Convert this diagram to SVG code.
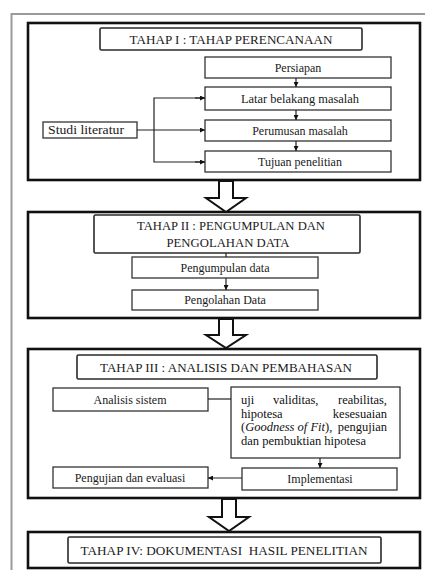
<svg xmlns="http://www.w3.org/2000/svg" width="425" height="570" viewBox="0 0 425 570">
  <style>
    .frame { fill: none; stroke: #9a9a9a; stroke-width: 2; }
    .stage { fill: #ffffff; stroke: #111; stroke-width: 2.6; }
    .title { fill: #ffffff; stroke: #2a2a2a; stroke-width: 1.6; }
    .box { fill: #ffffff; stroke: #333; stroke-width: 1.3; }
    .t { font-family: 'Liberation Serif', 'Times New Roman', serif; font-size: 12px; fill: #1a1a1a; text-anchor: middle; }
    .tt { font-family: 'Liberation Serif', 'Times New Roman', serif; font-size: 13px; fill: #1a1a1a; text-anchor: middle; }
    .tj { font-family: 'Liberation Serif', 'Times New Roman', serif; font-size: 12.5px; fill: #111; }
    .ln { fill: none; stroke: #222; stroke-width: 1.2; }
    .big { fill: #ffffff; stroke: #111; stroke-width: 2; stroke-linejoin: miter; }
  </style>
  <defs>
    <marker id="ah" viewBox="0 0 10 10" refX="10" refY="5" markerWidth="5" markerHeight="5" orient="auto" markerUnits="userSpaceOnUse">
      <path d="M0,0 L10,5 L0,10 z" fill="#111"/>
    </marker>
  </defs>

  <rect class="frame" x="11.5" y="14" width="430" height="570"/>

  <!-- Stage I -->
  <g id="stage1">
    <rect class="stage" x="28" y="23" width="392" height="157"/>
    <g id="title1">
      <rect class="title" x="100" y="28" width="262" height="22" rx="1.5"/>
      <text class="tt" x="231" y="43.5" textLength="203" lengthAdjust="spacingAndGlyphs">TAHAP I : TAHAP PERENCANAAN</text>
    </g>
    <g id="persiapan">
      <rect class="box" x="205" y="57" width="186" height="21"/>
      <text class="t" x="298" y="71.5">Persiapan</text>
    </g>
    <g id="latar">
      <rect class="box" x="205" y="87" width="186" height="23"/>
      <text class="t" x="300" y="102.5" textLength="118" lengthAdjust="spacingAndGlyphs">Latar belakang masalah</text>
    </g>
    <g id="perumusan">
      <rect class="box" x="205" y="120" width="186" height="21"/>
      <text class="t" x="300" y="134.5">Perumusan masalah</text>
    </g>
    <g id="tujuan">
      <rect class="box" x="205" y="151" width="186" height="21"/>
      <text class="t" x="300" y="165.5">Tujuan penelitian</text>
    </g>
    <g id="studi">
      <rect class="box" x="43" y="122" width="94" height="16"/>
      <text class="t" x="86" y="133.8" textLength="76" lengthAdjust="spacingAndGlyphs">Studi literatur</text>
    </g>
  </g>

  <!-- Stage II -->
  <g id="stage2">
    <rect class="stage" x="28" y="212" width="392" height="106"/>
    <g id="title2">
      <rect class="title" x="94" y="215" width="266" height="38" rx="1.5"/>
      <text class="tt" x="231" y="229.5" textLength="188" lengthAdjust="spacingAndGlyphs">TAHAP II : PENGUMPULAN DAN</text>
      <text class="tt" x="228" y="246.5" textLength="123" lengthAdjust="spacingAndGlyphs">PENGOLAHAN DATA</text>
    </g>
    <g id="pengumpulan">
      <rect class="box" x="132" y="257" width="186" height="21"/>
      <text class="t" x="225" y="271.5">Pengumpulan data</text>
    </g>
    <g id="pengolahan">
      <rect class="box" x="132" y="290" width="186" height="20"/>
      <text class="t" x="225" y="304">Pengolahan Data</text>
    </g>
  </g>

  <!-- Stage III -->
  <g id="stage3">
    <rect class="stage" x="28" y="349" width="392" height="149"/>
    <g id="title3">
      <rect class="title" x="77" y="355" width="300" height="24" rx="1.5"/>
      <text class="tt" x="226" y="371.5" textLength="252" lengthAdjust="spacingAndGlyphs">TAHAP III : ANALISIS DAN PEMBAHASAN</text>
    </g>
    <g id="analisis">
      <rect class="box" x="53" y="388" width="155" height="23"/>
      <text class="t" x="130" y="403.5">Analisis sistem</text>
    </g>
    <g id="uji">
      <rect class="box" x="231" y="387" width="169" height="71"/>
      <text class="tj" y="404"><tspan x="241">uji</tspan><tspan x="273">validitas,</tspan><tspan x="387" text-anchor="end">reabilitas,</tspan></text>
      <text class="tj" y="417.5"><tspan x="241">hipotesa</tspan><tspan x="387" text-anchor="end">kesesuaian</tspan></text>
      <text class="tj" y="431"><tspan x="241">(</tspan><tspan font-style="italic">Goodness of Fit</tspan><tspan>),</tspan><tspan x="387" text-anchor="end">pengujian</tspan></text>
      <text class="tj" y="444.5"><tspan x="241">dan pembuktian hipotesa</tspan></text>
    </g>
    <g id="implementasi">
      <rect class="box" x="242" y="468" width="155" height="22"/>
      <text class="t" x="320" y="483">Implementasi</text>
    </g>
    <g id="pengujian">
      <rect class="box" x="53" y="467" width="155" height="21"/>
      <text class="t" x="130" y="481.5">Pengujian dan evaluasi</text>
    </g>
  </g>

  <!-- Stage IV -->
  <g id="stage4">
    <rect class="stage" x="28" y="532" width="392" height="36"/>
    <g id="title4">
      <rect class="title" x="68" y="537" width="313" height="26" rx="1.5"/>
      <text class="tt" x="224" y="554.5" textLength="287" lengthAdjust="spacingAndGlyphs" xml:space="preserve">TAHAP IV: DOKUMENTASI  HASIL PENELITIAN</text>
    </g>
  </g>

  <!-- Connectors -->
  <g id="connectors">
    <line class="ln" x1="296" y1="78" x2="296" y2="87" marker-end="url(#ah)"/>
    <line class="ln" x1="296" y1="110" x2="296" y2="120" marker-end="url(#ah)"/>
    <line class="ln" x1="296" y1="141" x2="296" y2="151" marker-end="url(#ah)"/>
    <line class="ln" x1="137" y1="130" x2="205" y2="130" marker-end="url(#ah)"/>
    <polyline class="ln" points="205,98 154,98 154,162 205,162"/>
    <line class="ln" x1="195" y1="98" x2="205" y2="98" marker-end="url(#ah)"/>
    <line class="ln" x1="195" y1="162" x2="205" y2="162" marker-end="url(#ah)"/>

    <line class="ln" x1="226" y1="253" x2="226" y2="257"/>
    <line class="ln" x1="226" y1="278" x2="226" y2="290" marker-end="url(#ah)"/>

    <line class="ln" x1="208" y1="399" x2="231" y2="399"/>
    <line class="ln" x1="320" y1="458" x2="320" y2="468" marker-end="url(#ah)"/>
    <line class="ln" x1="242" y1="478" x2="208" y2="478" marker-end="url(#ah)"/>

    <polygon class="big" points="219,181 233,181 233,198 246,198 226,212 206,198 219,198"/>
    <polygon class="big" points="219,319 233,319 233,335 246,335 226,348 206,335 219,335"/>
    <polygon class="big" points="222,499 236,499 236,517 249,517 229,531 209,517 222,517"/>
  </g>
</svg>
